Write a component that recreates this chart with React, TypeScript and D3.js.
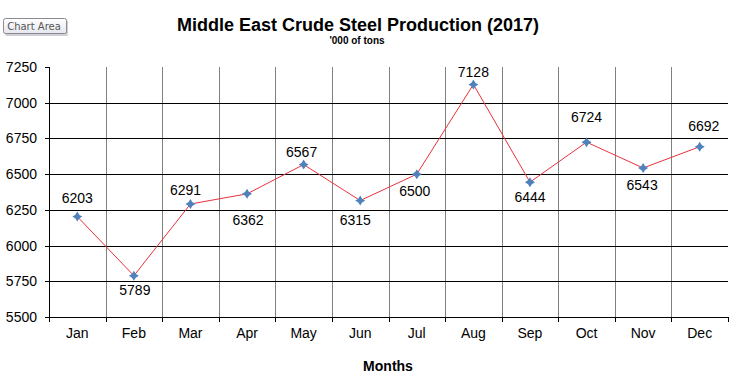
import React from "react";
import * as d3 from "d3";

const months = ["Jan", "Feb", "Mar", "Apr", "May", "Jun", "Jul", "Aug", "Sep", "Oct", "Nov", "Dec"];
const production = [6203, 5789, 6291, 6362, 6567, 6315, 6500, 7128, 6444, 6724, 6543, 6692];
const yTicks = [5500, 5750, 6000, 6250, 6500, 6750, 7000, 7250];

// label placement (layout, manually positioned in the original)
const labelDy = [-14, 19, -9, 31, -8, 24, 22, -7, 20, -20, 22, -16];
const labelDx = [0, 1, -5, 1, -2, -5, -2, 0, 0, 0, -1, 4];

const W = 738, H = 377;
const left = 49, right = 728, top = 67, bottom = 317;
const font = "'Liberation Sans', Arial, sans-serif";

export default function App() {
  const x = d3.scaleBand<string>().domain(months).range([left, right]).padding(0);
  const y = d3.scaleLinear().domain([5500, 7250]).range([bottom, top]);
  const cx = (m: string) => (x(m) as number) + x.bandwidth() / 2;
  const line = d3.line<number>().x((_, i) => cx(months[i])).y((d) => y(d));
  const bounds = months.map((m) => x(m) as number).concat([right]);
  const r = 5, c = 1.3;

  return (
    <svg width={W} height={H} style={{ position: "absolute", left: 0, top: 0, background: "#fff" }}>
      <defs>
        <linearGradient id="tip" x1="0" y1="0" x2="0" y2="1">
          <stop offset="0" stopColor="#ffffff" />
          <stop offset="1" stopColor="#e6e7ef" />
        </linearGradient>
      </defs>
      <rect x={0} y={0} width={W} height={H} fill="#fff" />
      <text x={358} y={31} textAnchor="middle" fontFamily={font} fontWeight="bold" fontSize={18} fill="#000">
        Middle East Crude Steel Production (2017)
      </text>
      <text x={357} y={44} textAnchor="middle" fontFamily={font} fontWeight="bold" fontSize={10} fill="#000">
        '000 of tons
      </text>
      {bounds.slice(1, -1).map((b, i) => (
        <line key={"v" + i} x1={Math.round(b) + 0.5} x2={Math.round(b) + 0.5} y1={top} y2={bottom} stroke="#808080" strokeWidth={1} />
      ))}
      {yTicks.slice(1, -1).map((t) => (
        <line key={"h" + t} x1={left} x2={right} y1={Math.round(y(t)) + 0.5} y2={Math.round(y(t)) + 0.5} stroke="#000" strokeWidth={1} />
      ))}
      <line x1={left + 0.5} x2={left + 0.5} y1={top} y2={bottom + 5} stroke="#000" />
      <line x1={left - 4} x2={right} y1={Math.round(y(5500)) + 0.5} y2={Math.round(y(5500)) + 0.5} stroke="#000" />
      {yTicks.map((t) => (
        <g key={"yt" + t}>
          <line x1={left - 4} x2={left} y1={Math.round(y(t)) + 0.5} y2={Math.round(y(t)) + 0.5} stroke="#000" />
          <text x={left - 12} y={y(t) + 5} textAnchor="end" fontFamily={font} fontSize={14} fill="#000">
            {t}
          </text>
        </g>
      ))}
      {bounds.map((b, i) => (
        <line key={"xt" + i} x1={Math.round(b) + 0.5} x2={Math.round(b) + 0.5} y1={bottom} y2={bottom + 5} stroke="#000" />
      ))}
      {months.map((m) => (
        <text key={"xl" + m} x={cx(m)} y={338} textAnchor="middle" fontFamily={font} fontSize={14} fill="#000">
          {m}
        </text>
      ))}
      <text x={388} y={371} textAnchor="middle" fontFamily={font} fontWeight="bold" fontSize={14} fill="#000">
        Months
      </text>
      <path d={line(production) as string} fill="none" stroke="#e8323c" strokeWidth={1} />
      {production.map((v, i) => {
        const px = cx(months[i]);
        const py = y(v);
        const d = `M${px},${py - r}Q${px + c},${py - c} ${px + r},${py}Q${px + c},${py + c} ${px},${py + r}Q${px - c},${py + c} ${px - r},${py}Q${px - c},${py - c} ${px},${py - r}Z`;
        return (
          <g key={"p" + i}>
            <path d={d} fill="#4f81bd" />
            <text x={px + labelDx[i]} y={py + labelDy[i]} textAnchor="middle" fontFamily={font} fontSize={14} fill="#000">
              {v}
            </text>
          </g>
        );
      })}
      <g>
        <rect x={5} y={20} width={63} height={16} rx={2} fill="#a8a8b0" opacity={0.55} />
        <rect x={3.5} y={18.5} width={63} height={15} rx={2} fill="url(#tip)" stroke="#8a8a95" />
        <text x={34} y={30} textAnchor="middle" fontFamily="'DejaVu Sans', sans-serif" fontSize={10} fill="#575757">
          Chart Area
        </text>
      </g>
    </svg>
  );
}
